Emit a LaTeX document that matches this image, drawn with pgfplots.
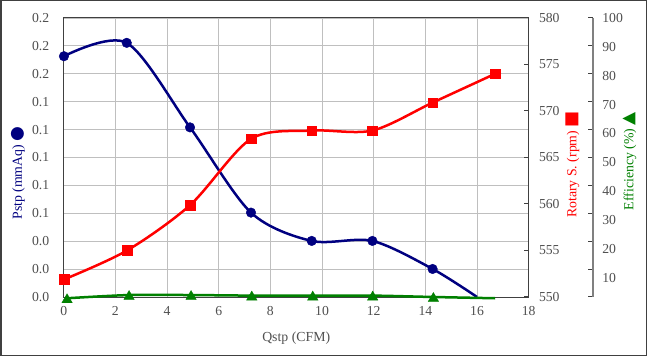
\documentclass[border=0pt]{standalone}
\usepackage{pgfplots}
\pgfplotsset{compat=1.18}
\usepackage{fontspec}
\setmainfont{Liberation Serif}
\newfontfamily\symfont{DejaVu Sans}
\definecolor{pblue}{RGB}{0,0,128}
\definecolor{pred}{RGB}{255,0,0}
\definecolor{pgreen}{RGB}{0,128,0}
\definecolor{tickgray}{RGB}{80,80,80}
\definecolor{gridgray}{RGB}{191,191,191}
\definecolor{axgray}{RGB}{64,64,64}
\definecolor{effaxis}{RGB}{128,128,128}
\begin{document}
\begin{tikzpicture}[x=1pt,y=1pt]
\path[use as bounding box] (0,0) rectangle (647,356);
\fill[white] (0,0) rectangle (647,356);
\draw[axgray, line width=1.5pt] (0.75,0.75) rectangle (646.25,355.25);
\pgfplotsset{
  base/.style={
    scale only axis, width=465pt, height=279pt,
    at={(63.7pt,59pt)}, anchor=south west,
    xmin=0, xmax=18,
    font=\fontsize{13.7}{16}\selectfont,
    tick label style={text=tickgray, font=\fontsize{13.7}{16}\selectfont},
    label style={font=\fontsize{13.8}{16}\selectfont},
    /pgf/number format/assume math mode=true,
  }
}
% Primary axis: Pstp
\begin{axis}[base,
  ymin=0, ymax=0.2,
  xtick={0,2,4,6,8,10,12,14,16,18},
  ytick={0,0.02,0.04,0.06,0.08,0.1,0.12,0.14,0.16,0.18,0.2},
  yticklabels={0.0,0.0,0.0,0.1,0.1,0.1,0.1,0.1,0.2,0.2,0.2},
  grid=major, major grid style={gridgray, line width=0.9pt},
  axis line style={axgray, line width=1pt},
  major tick length=0pt,
  yticklabel style={xshift=-10.9pt},
  xticklabel style={yshift=-6.2pt},
  xlabel={Qstp (CFM)},
  xlabel style={at={(axis description cs:0.5,-0.146)}, anchor=center, text=tickgray},
  ylabel={Pstp (mmAq) {\symfont\fontsize{17}{17}\selectfont ●}},
  ylabel style={at={(axis description cs:-0.0983,0.444)}, anchor=center, text=pblue},
]
\addplot[pblue, line width=2.5pt, smooth, tension=0.5, mark=*, mark size=4.8pt,
  mark options={fill=pblue, draw=pblue, line width=0.4pt, solid}, mark indices={1,2,3,4,5,6,7}]
  coordinates {(0.01,0.1726) (2.44,0.1822) (4.89,0.1216) (7.25,0.0605) (9.6,0.0402) (11.95,0.0402) (14.28,0.0201) (16.0,0.0)};
\end{axis}
% Secondary axis: Rotary speed
\begin{axis}[base,
  ymin=550, ymax=580, ytick={550,555,560,565,570,575,580},
  axis y line*=right, axis x line=none,
  axis line style={draw=none},
  ytick style={axgray, line width=1pt},
  tick align=inside, major tick length=5pt,
  yticklabel style={xshift=6.8pt},
  ylabel={Rotary S. (rpm) {\symfont\fontsize{17}{17}\selectfont ■}},
  ylabel style={at={(axis description cs:1.0942,0.475)}, anchor=center, text=pred},
]
\addplot[pred, line width=2.5pt, smooth, tension=0.5, mark=square*, mark size=4.8pt,
  mark options={fill=pred, draw=pred, line width=0.4pt, solid}]
  coordinates {(0.02,551.9) (2.45,555.0) (4.9,559.9) (7.25,567.0) (9.6,567.9) (11.95,567.9) (14.28,570.9) (16.7,574.0)};
\end{axis}
% Efficiency axis line and ticks
\begin{axis}[base, width=529.3pt, xmax=20.488,
  ymin=0, ymax=100, ytick={0,10,20,30,40,50,60,70,80,90,100},
  yticklabels={},
  axis y line*=right, axis x line=none,
  y axis line style={effaxis, line width=1.2pt},
  ytick style={axgray, line width=1pt},
  tick align=inside, major tick length=5pt,
]
\end{axis}
% Efficiency labels and data
\begin{axis}[base, width=529.3pt, xmax=20.488,
  ymin=0, ymax=100,
  ytick={6.90,17.24,27.59,37.93,48.28,58.62,68.97,79.31,89.66,100},
  yticklabels={10,20,30,40,50,60,70,80,90,100},
  axis y line*=right, axis x line=none,
  axis line style={draw=none},
  major tick length=0pt,
  yticklabel style={xshift=5.8pt},
  clip=false,
  ylabel={Efficiency (\%) {\symfont\fontsize{17}{17}\selectfont ▲}},
  ylabel style={at={(axis description cs:1.0686,0.487)}, anchor=center, text=pgreen},
]
\addplot[pgreen, line width=2.5pt, smooth, tension=0.5, mark=triangle*, mark size=6pt,
  mark options={fill=pgreen, draw=pgreen, line width=0.4pt, solid, yshift=-1.5pt}, mark indices={1,2,3,4,5,6,7}]
  coordinates {(0.13,-0.45) (2.53,0.7) (4.93,0.7) (7.28,0.5) (9.64,0.5) (11.96,0.5) (14.31,0.0) (16.7,-0.45)};
\end{axis}
\end{tikzpicture}
\end{document}
